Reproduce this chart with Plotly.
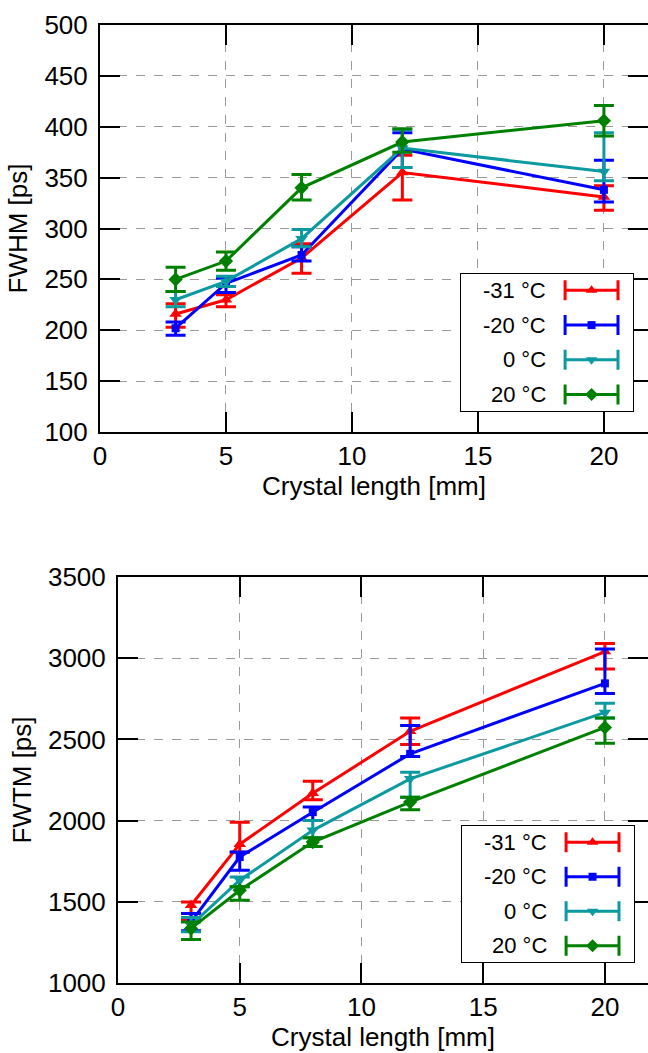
import plotly.graph_objects as go

# ---------------- data ----------------
lengths = [3, 5, 8, 12, 20]
series_names = ["-31 °C", "-20 °C", "0 °C", "20 °C"]
colors = ["#ff0000", "#0000ff", "#0c9aa0", "#008000"]
symbols = ["triangle-up", "square", "triangle-down", "diamond"]

# FWHM [ps]
fwhm_m31 = [216, 230, 271, 355, 331]
fwhm_m31_plus = [10, 5, 14, 17, 11]
fwhm_m31_minus = [13, 7, 15, 27, 13]

fwhm_m20 = [202, 246, 274, 378, 338]
fwhm_m20_plus = [6, 5, 8, 16, 29]
fwhm_m20_minus = [7, 9, 6, 18, 12]

fwhm_0 = [230, 248, 290, 379, 356]
fwhm_0_plus = [8, 5, 9, 18, 38]
fwhm_0_minus = [7, 5, 8, 19, 9]

fwhm_20 = [250, 268, 340, 385, 406]
fwhm_20_plus = [12, 9, 13, 13, 15]
fwhm_20_minus = [12, 9, 12, 10, 15]

# FWTM [ps]
fwtm_m31 = [1479, 1855, 2168, 2550, 3041]
fwtm_m31_plus = [20, 135, 75, 82, 49]
fwtm_m31_minus = [88, 50, 40, 82, 108]

fwtm_m20 = [1376, 1776, 2052, 2411, 2845]
fwtm_m20_plus = [52, 30, 31, 174, 211]
fwtm_m20_minus = [55, 82, 51, 17, 62]

fwtm_0 = [1356, 1633, 1940, 2257, 2666]
fwtm_0_plus = [47, 20, 61, 41, 56]
fwtm_0_minus = [40, 41, 45, 113, 34]

fwtm_20 = [1336, 1571, 1868, 2114, 2574]
fwtm_20_plus = [40, 21, 27, 30, 58]
fwtm_20_minus = [68, 61, 27, 47, 98]

fwhm_sets = [(fwhm_m31, fwhm_m31_plus, fwhm_m31_minus),
             (fwhm_m20, fwhm_m20_plus, fwhm_m20_minus),
             (fwhm_0, fwhm_0_plus, fwhm_0_minus),
             (fwhm_20, fwhm_20_plus, fwhm_20_minus)]
fwtm_sets = [(fwtm_m31, fwtm_m31_plus, fwtm_m31_minus),
             (fwtm_m20, fwtm_m20_plus, fwtm_m20_minus),
             (fwtm_0, fwtm_0_plus, fwtm_0_minus),
             (fwtm_20, fwtm_20_plus, fwtm_20_minus)]

x_ticks = [0, 5, 10, 15, 20]
fwhm_ticks = [100, 150, 200, 250, 300, 350, 400, 450, 500]
fwtm_ticks = [1000, 1500, 2000, 2500, 3000, 3500]

W, H = 648, 1053
FONT = "Liberation Sans, Arial, sans-serif"

fig = go.Figure()

def add_series(sets, xa, ya):
    for name, col, sym, (vals, plus, minus) in zip(series_names, colors, symbols, sets):
        fig.add_trace(go.Scatter(
            x=lengths, y=vals, mode="lines+markers", name=name,
            xaxis=xa, yaxis=ya, showlegend=False,
            line=dict(color=col, width=3),
            marker=dict(symbol=sym, size=11 if sym != "square" else 8, color=col),
            error_y=dict(type="data", symmetric=False, array=plus, arrayminus=minus,
                         color=col, thickness=3, width=10),
        ))

add_series(fwhm_sets, "x", "y")
add_series(fwtm_sets, "x2", "y2")

# custom legend keys (gnuplot style: horizontal error bar with marker)
def add_legend(xa, ya):
    fig.add_shape(type="rect", xref=xa, yref=ya,
                  x0=0, x1=1, y0=0, y1=4, line=dict(color="black", width=2),
                  fillcolor="white", layer="below")
    for i, (name, col, sym) in enumerate(zip(series_names, colors, symbols)):
        fig.add_trace(go.Scatter(
            x=[0.756], y=[i + 0.5], mode="markers", xaxis=xa, yaxis=ya,
            showlegend=False, hoverinfo="skip",
            marker=dict(symbol=sym, size=10 if sym != "square" else 8, color=col),
            error_x=dict(type="data", array=[0.152], color=col, thickness=3, width=10),
        ))
        fig.add_annotation(x=0.506, y=i + 0.5, xref=xa, yref=ya, text=name,
                           showarrow=False, xanchor="right", yanchor="middle",
                           font=dict(family=FONT, size=22, color="black"))

add_legend("x3", "y3")
add_legend("x4", "y4")

axis_common = dict(
    showline=True, linecolor="black", linewidth=2, mirror="ticks",
    ticks="inside", ticklen=20, tickwidth=2, tickcolor="black",
    showgrid=True, gridcolor="#9a9a9a", griddash="dash", gridwidth=1,
    zeroline=False, tickfont=dict(family=FONT, size=26, color="black"),
    automargin=False,
)

def py(px):
    return 1 - px / H

fig.update_layout(
    width=W, height=H, autosize=False,
    margin=dict(l=0, r=0, t=0, b=0, autoexpand=False),
    paper_bgcolor="white", plot_bgcolor="white",
    font=dict(family=FONT, size=26, color="black"),
    xaxis=dict(domain=[100 / W, 1], range=[0, 21.75], tickvals=x_ticks,
               title=dict(text="Crystal length [mm]", font=dict(size=26), standoff=4),
               anchor="y", ticklabelstandoff=0, **axis_common),
    yaxis=dict(domain=[py(432), py(25)], range=[100, 500], tickvals=fwhm_ticks,
               title=dict(text="FWHM [ps]", font=dict(size=26), standoff=9),
               anchor="x", ticklabelstandoff=5, **axis_common),
    xaxis2=dict(domain=[118 / W, 1], range=[0, 21.77], tickvals=x_ticks,
                title=dict(text="Crystal length [mm]", font=dict(size=26), standoff=0),
                anchor="y2", ticklabelstandoff=0, **axis_common),
    yaxis2=dict(domain=[py(983), py(577)], range=[1000, 3500], tickvals=fwtm_ticks,
                title=dict(text="FWTM [ps]", font=dict(size=26), standoff=9),
                anchor="x2", ticklabelstandoff=5, **axis_common),
    xaxis3=dict(domain=[460 / W, 634 / W], range=[0, 1], visible=False, anchor="y3"),
    yaxis3=dict(domain=[py(412), py(273)], range=[4, 0], visible=False, anchor="x3"),
    xaxis4=dict(domain=[461 / W, 635 / W], range=[0, 1], visible=False, anchor="y4"),
    yaxis4=dict(domain=[py(963), py(825)], range=[4, 0], visible=False, anchor="x4"),
)

fig.write_html(
    "out.html",
    config={"responsive": False, "displayModeBar": False},
    default_width="648px",
    default_height="1053px",
    post_script="document.body.style.margin='0px';document.body.style.padding='0px';"
                "document.body.style.overflow='hidden';",
)
